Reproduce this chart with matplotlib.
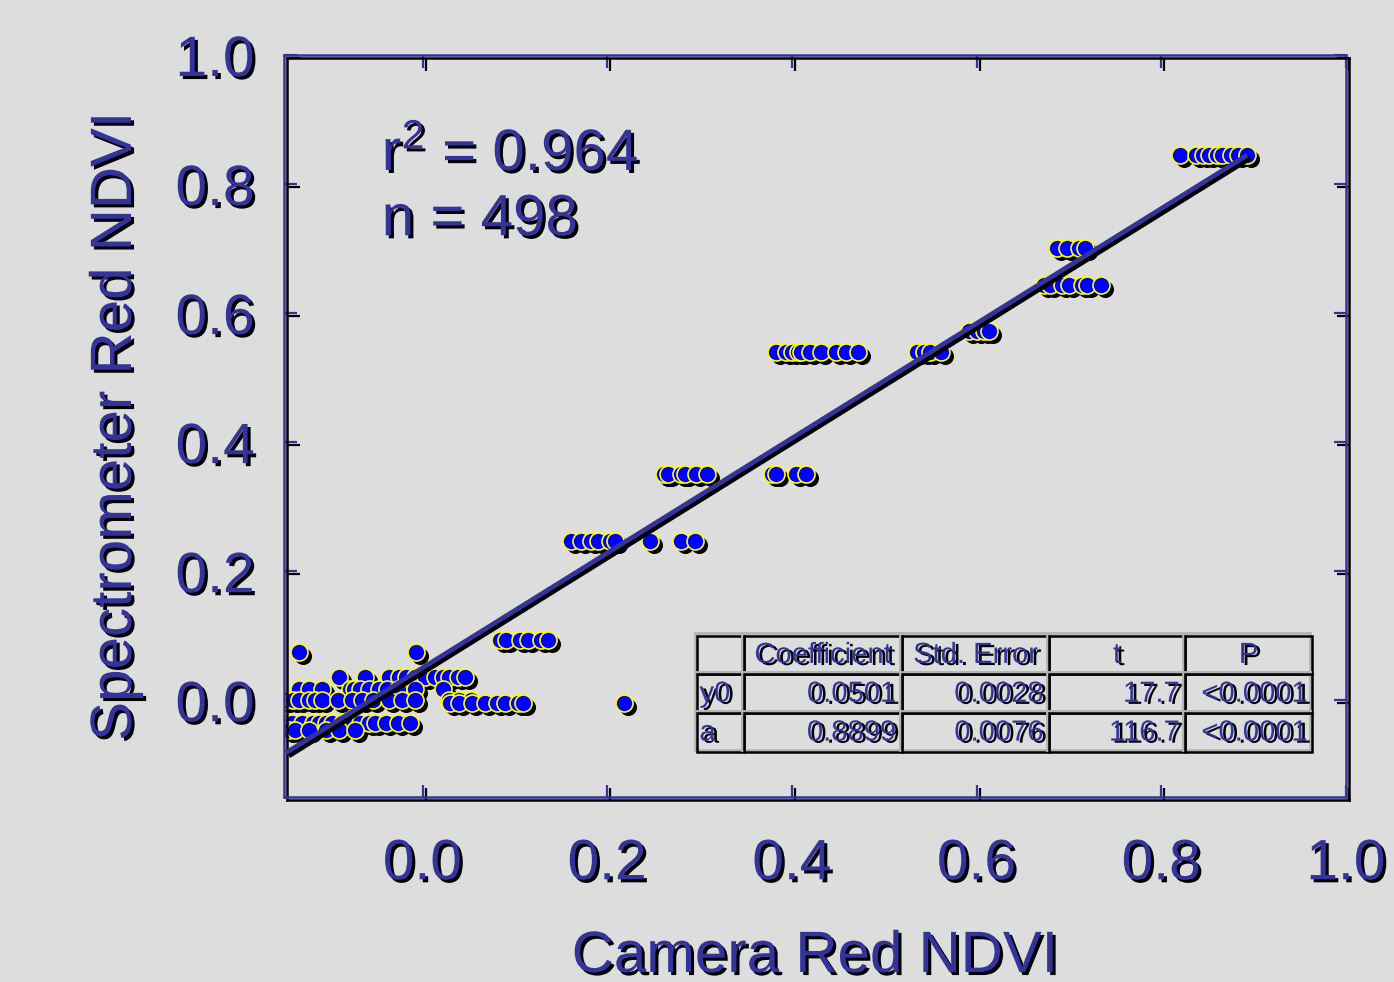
import numpy as np
import matplotlib
matplotlib.use("Agg")
import matplotlib.pyplot as plt
import matplotlib.patheffects as pe
from matplotlib.transforms import offset_copy
from matplotlib.table import Table

# ---------------------------------------------------------------------------
# Camera vs spectrometer red NDVI, grouped by spectrometer reading
# ---------------------------------------------------------------------------
spec_levels = [0.074, 0.036, 0.017, 0.000, -0.004, -0.036, -0.046,
               0.094, 0.246, 0.350, 0.539, 0.573, 0.644, 0.701, 0.845]

cam_074 = [-0.134, -0.007]
cam_036 = [-0.090, -0.062, -0.036, -0.025, -0.018, -0.008, 0.003, 0.014,
           0.022, 0.029, 0.038, 0.046]
cam_017 = [-0.134, -0.123, -0.109, -0.079, -0.074, -0.068, -0.058, -0.047,
           -0.038, -0.027, -0.008, 0.022]
cam_000 = [-0.148, -0.140, -0.134, -0.123, -0.116, -0.109, -0.092, -0.076,
           -0.065, -0.054, -0.036, -0.022, -0.008, 0.029, 0.040, 0.052]
cam_m004 = [0.030, 0.040, 0.054, 0.068, 0.081, 0.089, 0.103, 0.109, 0.218]
cam_m036 = [-0.148, -0.141, -0.130, -0.119, -0.112, -0.105, -0.098, -0.087,
            -0.076, -0.068, -0.058, -0.051, -0.040, -0.027, -0.014]
cam_m046 = [-0.145, -0.138, -0.123, -0.105, -0.090, -0.073]
cam_094 = [0.084, 0.090, 0.106, 0.114, 0.128, 0.136]
cam_246 = [0.161, 0.172, 0.182, 0.190, 0.203, 0.208, 0.246, 0.280, 0.295]
cam_350 = [0.261, 0.266, 0.280, 0.284, 0.296, 0.308, 0.378, 0.383, 0.404,
           0.415]
cam_539 = [0.383, 0.394, 0.400, 0.407, 0.410, 0.420, 0.431, 0.448, 0.459,
           0.472, 0.535, 0.543, 0.550, 0.561]
cam_573 = [0.592, 0.600, 0.608, 0.613]
cam_644 = [0.673, 0.679, 0.693, 0.700, 0.714, 0.720, 0.735]
cam_701 = [0.687, 0.698, 0.711, 0.717]
cam_845 = [0.820, 0.838, 0.845, 0.852, 0.860, 0.866, 0.876, 0.883, 0.893]

cam_groups = [cam_074, cam_036, cam_017, cam_000, cam_m004, cam_m036,
              cam_m046, cam_094, cam_246, cam_350, cam_539, cam_573,
              cam_644, cam_701, cam_845]

# linear fit y = y0 + a*x
fit_y0 = 0.0501
fit_a = 0.8899
r_squared = 0.964
n_points = 498

table_header = ["", "Coefficient", "Std. Error", "t", "P"]
table_rows = ["y0", "a"]
coef_vals = ["0.0501", "0.8899"]
stderr_vals = ["0.0028", "0.0076"]
t_vals = ["17.7", "116.7"]
p_vals = ["<0.0001", "<0.0001"]

ticks = [0.0, 0.2, 0.4, 0.6, 0.8, 1.0]

NAVY = "#333399"
BG = "#dddddd"

plt.rcParams["font.family"] = ["Liberation Sans", "DejaVu Sans"]
plt.rcParams["mathtext.fontset"] = "custom"
plt.rcParams["mathtext.rm"] = "Liberation Sans"
plt.rcParams["mathtext.default"] = "regular"

txt_shadow = [pe.withSimplePatchShadow(offset=(2.2, -2.2), shadow_rgbFace="k", alpha=1.0)]
line_shadow = [pe.Stroke(offset=(2.2, -2.2), foreground="k"), pe.Normal()]

cam = np.concatenate([np.asarray(g) for g in cam_groups])
spec = np.concatenate([np.full(len(g), lvl) for g, lvl in zip(cam_groups, spec_levels)])

fig = plt.figure(figsize=(13.94, 9.82), dpi=100, facecolor=BG)
ax = fig.add_axes([284 / 1394, 185 / 982, 1062 / 1394, 742 / 982], facecolor=BG)

# points: black drop shadow first, then blue dots with yellow rims
shadow_tr = offset_copy(ax.transData, fig=fig, x=4, y=-4, units="dots")
ax.scatter(cam, spec, s=150, color="k", linewidths=0, transform=shadow_tr, zorder=2)
ax.scatter(cam, spec, s=150, facecolor="#0000ff", edgecolor="#ffff00",
           linewidths=1.2, zorder=2.1)

# regression line
xfit = np.array([cam.min(), cam.max()])
ax.plot(xfit, fit_y0 + fit_a * xfit, color=NAVY, lw=3.4,
        solid_capstyle="butt", path_effects=line_shadow, zorder=3)

ax.set_xlim(-0.15, 1.0)
ax.set_ylim(-0.15, 1.0)
ax.set_xticks(ticks)
ax.set_yticks(ticks)
ax.set_xticklabels([f"{t:.1f}" for t in ticks])
ax.set_yticklabels([f"{t:.1f}" for t in ticks])
ax.tick_params(direction="in", length=9, width=1.6, color=NAVY,
               labelcolor=NAVY, labelsize=41, top=True, right=True)
ax.tick_params(axis="x", pad=29)
ax.tick_params(axis="y", pad=21)

for sp in ax.spines.values():
    sp.set_color(NAVY)
    sp.set_linewidth(1.8)
    sp.set_path_effects(line_shadow)
for tl in ax.xaxis.get_ticklines() + ax.yaxis.get_ticklines():
    tl.set_path_effects(line_shadow)
for lbl in ax.get_xticklabels() + ax.get_yticklabels():
    lbl.set_path_effects(txt_shadow)

fig.text(815 / 1394, 1 - 972 / 982, "Camera Red NDVI", ha="center",
         va="baseline", fontsize=42, color=NAVY, path_effects=txt_shadow)
fig.text(116 / 1394, 1 - 426 / 982, "Spectrometer Red NDVI", ha="center",
         va="center", rotation=90, fontsize=42, color=NAVY, path_effects=txt_shadow)

ax.text(0.092, 0.845, f"r$^2$ = {r_squared:.3f}", transform=ax.transAxes,
        fontsize=42, color=NAVY, va="baseline", path_effects=txt_shadow)
ax.text(0.092, 0.757, f"n = {n_points}", transform=ax.transAxes,
        fontsize=42, color=NAVY, va="baseline", path_effects=txt_shadow)

# coefficient table
col_w = [47, 158, 147, 136, 127]
tbl = Table(ax, bbox=[0.389, 0.0606, 0.579, 0.157])
cells = [table_header] + [[r, c, s, t, p] for r, c, s, t, p in
                          zip(table_rows, coef_vals, stderr_vals, t_vals, p_vals)]
grid_fx = [pe.Stroke(offset=(-1.5, 1.5), foreground="#b4b4b4", linewidth=2.0), pe.Normal()]
for i, row in enumerate(cells):
    for j, val in enumerate(row):
        if i == 0:
            loc = "center"
        elif j == 0:
            loc = "left"
        else:
            loc = "right"
        cell = tbl.add_cell(i, j, width=col_w[j], height=1, text=val, loc=loc,
                            facecolor="none", edgecolor="k")
        cell.PAD = 0.04 if j > 0 else 0.05
        cell.set_linewidth(1.8)
        cell.set_path_effects(grid_fx)
        cell.get_text().set_color(NAVY)
        cell.get_text().set_path_effects(
            [pe.withSimplePatchShadow(offset=(2.5, -1.5), shadow_rgbFace="k", alpha=1.0)])
tbl.auto_set_font_size(False)
tbl.set_fontsize(21)
tbl.set_zorder(4)
ax.add_table(tbl)

fig.savefig("out.png", dpi=100, facecolor=BG)
